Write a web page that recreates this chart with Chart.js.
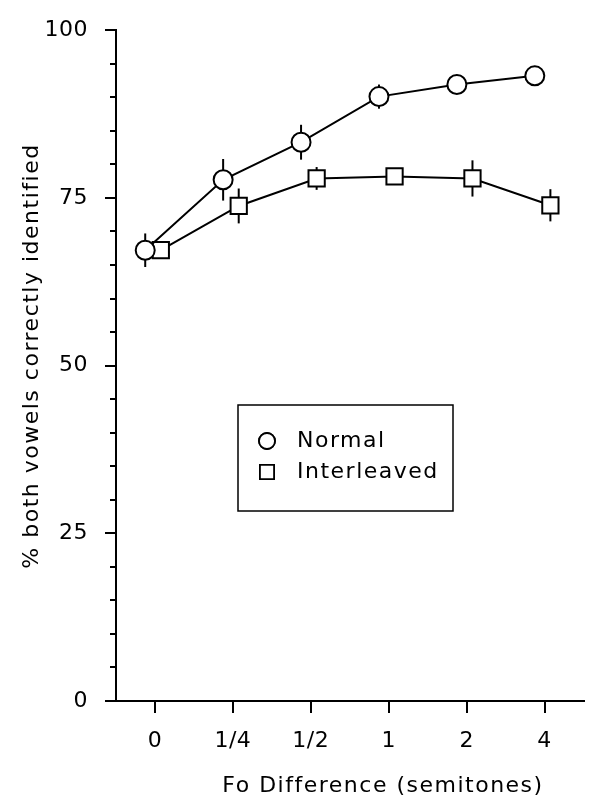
<!DOCTYPE html>
<html>
<head>
<meta charset="utf-8">
<script src="https://cdn.jsdelivr.net/npm/chart.js@4.4.1/dist/chart.umd.min.js"></script>
<style>
  html, body { margin: 0; padding: 0; background: #fff; }
  #wrap { width: 597px; height: 802px; }
</style>
</head>
<body>
<div id="wrap"><canvas id="chart"></canvas></div>
<script>
// Fo difference conditions and mean % correct for each listening condition
const categories = ['0', '1/4', '1/2', '1', '2', '4'];
const normal = [67.2, 77.7, 83.3, 90.1, 91.9, 93.2];
const interleaved = [67.2, 73.8, 77.9, 78.2, 77.9, 73.9];
// half-length of the error bars
const normalErr = [2.5, 3.1, 2.6, 1.8, 0, 0];
const interleavedErr = [0, 2.6, 1.7, 0, 2.7, 2.4];
const yLabels = [0, 25, 50, 75, 100];

const FONT = '"DejaVu Sans", sans-serif';

// the two series sit a little either side of each category
const toPoints = (vals, errs, shift) => vals.map((v, i) => ({x: i + shift, y: v, err: errs[i]}));

const spacingPlugin = {
    id: 'spacing',
    beforeDraw(chart){
        chart.ctx.letterSpacing = '0.5px';
    }
};

const errorBars = {
    id: 'errorBars',
    beforeDatasetsDraw(chart){
        const ctx = chart.ctx;
        const xs = chart.scales.x, ys = chart.scales.y;
        ctx.save();
        ctx.strokeStyle = '#000';
        ctx.lineWidth = 2;
        chart.data.datasets.forEach(ds => {
            ds.data.forEach(p => {
                if (!p.err) return;
                const x = xs.getPixelForValue(p.x);
                ctx.beginPath();
                ctx.moveTo(x, ys.getPixelForValue(p.y + p.err));
                ctx.lineTo(x, ys.getPixelForValue(p.y - p.err));
                ctx.stroke();
            });
        });
        ctx.restore();
    }
};

const decorations = {
    id: 'decorations',
    afterDraw(chart){
        const ctx = chart.ctx;
        const ys = chart.scales.y;
        const left = chart.chartArea.left;
        ctx.save();

        // short minor ticks every 5 %
        ctx.strokeStyle = '#000';
        ctx.lineWidth = 2;
        for (let v = 5; v < 100; v += 5) {
            if (yLabels.includes(v)) continue;
            const y = Math.round(ys.getPixelForValue(v));
            ctx.beginPath();
            ctx.moveTo(left - 6, y);
            ctx.lineTo(left, y);
            ctx.stroke();
        }

        // axis titles
        ctx.letterSpacing = '1.5px';
        ctx.fillStyle = '#000';
        ctx.font = '22px ' + FONT;
        ctx.textAlign = 'center';
        ctx.textBaseline = 'middle';
        ctx.fillText('Fo Difference (semitones)', 383, 786);
        ctx.save();
        ctx.translate(32, 356);
        ctx.rotate(-Math.PI / 2);
        ctx.fillText('% both vowels correctly identified', 0, 0);
        ctx.restore();

        // legend box
        ctx.lineWidth = 1.5;
        ctx.strokeRect(238, 405, 215, 106);
        ctx.textAlign = 'left';
        const rows = [[chart.data.datasets[0], 441], [chart.data.datasets[1], 472]];
        rows.forEach(([ds, y]) => {
            ctx.fillStyle = '#fff';
            ctx.lineWidth = 1.8;
            Chart.helpers.drawPoint(ctx, {pointStyle: ds.pointStyle, radius: ds.pointStyle === 'rect' ? 10 : 8, borderWidth: 1.8}, 267, y);
            ctx.fill();
            ctx.stroke();
            ctx.fillStyle = '#000';
            ctx.fillText(ds.label, 297, y);
        });
        ctx.restore();
    }
};

new Chart(document.getElementById('chart'), {
    type: 'line',
    data: {
        datasets: [
            {
                label: 'Normal',
                data: toPoints(normal, normalErr, -0.125),
                pointStyle: 'circle',
                pointRadius: 9.5,
                borderColor: '#000',
                backgroundColor: '#fff',
                pointBorderWidth: 2,
                borderWidth: 2,
                tension: 0
            },
            {
                label: 'Interleaved',
                data: toPoints(interleaved, interleavedErr, 0.075),
                pointStyle: 'rect',
                pointRadius: 11.5,
                borderColor: '#000',
                backgroundColor: '#fff',
                pointBorderWidth: 2,
                borderWidth: 2,
                tension: 0
            }
        ]
    },
    options: {
        responsive: true,
        maintainAspectRatio: false,
        animation: false,
        layout: { padding: { top: 24, right: 8, left: 0, bottom: 0 } },
        plugins: {
            legend: { display: false },
            tooltip: { enabled: false }
        },
        scales: {
            x: {
                type: 'linear',
                min: -0.5,
                max: 5.5,
                afterBuildTicks: scale => { scale.ticks = categories.map((c, i) => ({value: i})); },
                afterFit: scale => { scale.height = 101; },
                border: { display: true, color: '#000', width: 2 },
                grid: { drawOnChartArea: false, drawTicks: true, tickLength: 12, color: '#000', lineWidth: 2 },
                ticks: {
                    padding: 15,
                    color: '#000',
                    font: { family: FONT, size: 22 },
                    callback: v => categories[v]
                }
            },
            y: {
                min: 0,
                max: 100,
                afterFit: scale => { scale.width = 116; },
                border: { display: true, color: '#000', width: 2 },
                grid: {
                    drawOnChartArea: false,
                    drawTicks: true,
                    tickLength: 11,
                    lineWidth: 2,
                    color: c => yLabels.includes(c.tick.value) ? '#000' : 'rgba(0,0,0,0)'
                },
                ticks: {
                    stepSize: 5,
                    padding: 17,
                    color: '#000',
                    font: { family: FONT, size: 22 },
                    callback: v => yLabels.includes(v) ? v : ''
                }
            }
        }
    },
    plugins: [spacingPlugin, errorBars, decorations]
});
</script>
</body>
</html>
